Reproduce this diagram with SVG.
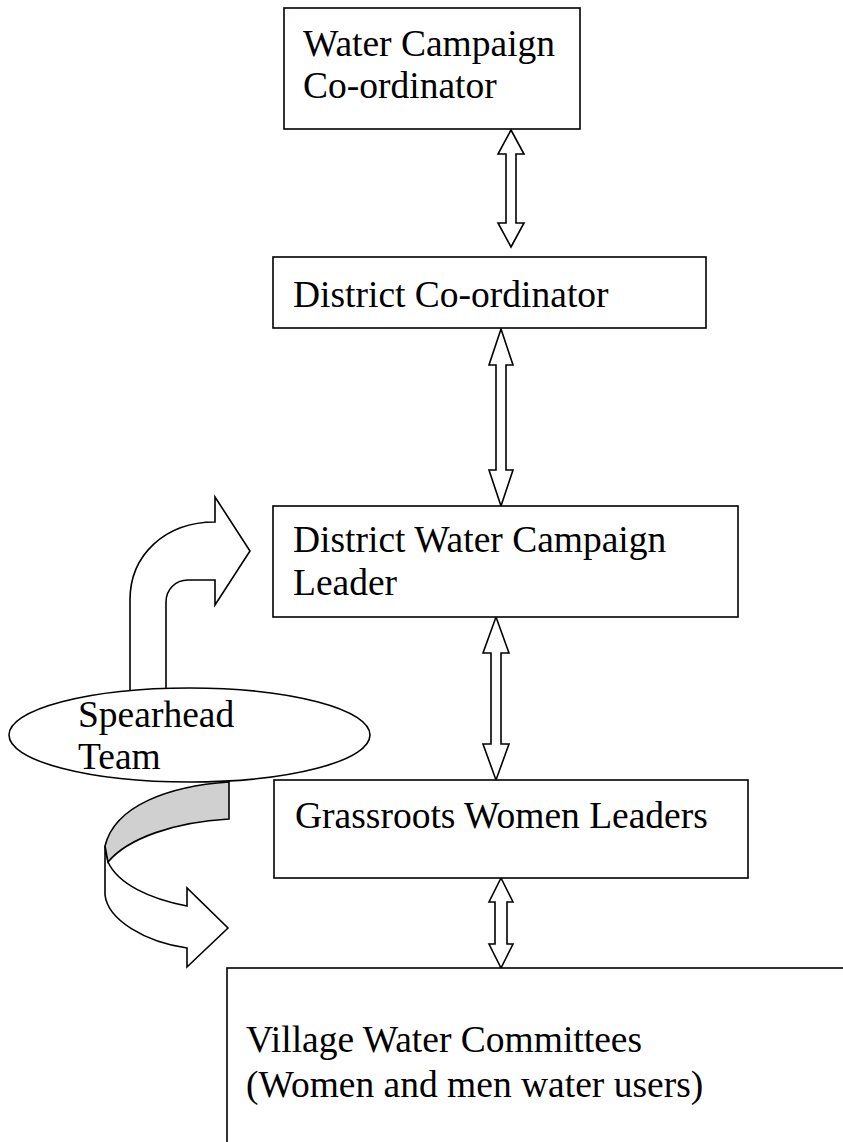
<svg xmlns="http://www.w3.org/2000/svg" width="843" height="1142" viewBox="0 0 843 1142">
<style>
.box{fill:#fff;stroke:#000;stroke-width:1.6}
.arr{fill:#fff;stroke:#000;stroke-width:1.6;stroke-linejoin:miter}
.gray{fill:#d0d0d0;stroke:#000;stroke-width:1.6}
.t{font-family:"Liberation Serif","Times New Roman",serif;font-size:37.5px;fill:#000}
</style>
<rect width="843" height="1142" fill="#fff"/>
<g id="connectors">
<polygon class="arr" points="511,130 524,154 516,154 516,223 524,223 511,247 498,223 506,223 506,154 498,154"/>
<polygon class="arr" points="501,329 513,365 506,365 506,470 513,470 501,506 489,470 496,470 496,365 489,365"/>
<polygon class="arr" points="496,617 509,653 501,653 501,744 509,744 496,780 483,744 491,744 491,653 483,653"/>
<polygon class="arr" points="501,878 513,902 507,902 507,944 513,944 501,968 489,944 495,944 495,902 489,902"/>
<path id="bent-up-arrow" class="arr" d="M130,705 L130,600 C130,555 165,522 215,522 L215,497 L250,551 L215,605 L215,580 L188,580 C175,580 166,590 166,602 L166,705 Z"/>
<g id="curved-arrow">
<path class="arr" d="M105,846 L105,895 C108,920 145,942 187,948 L187,967 L228,928 L187,888 L187,906 C150,899 118,884 108,862 Z"/>
<path class="gray" d="M229,765 L229,819 C175,822 128,838 108,862 L105,846 C115,805 170,786 229,782 Z"/>
</g>
</g>
<g id="node-water-campaign-coordinator">
<rect class="box" x="284" y="8" width="296" height="121"/>
<text class="t" x="303" y="56">Water Campaign</text>
<text class="t" x="303" y="98">Co-ordinator</text>
</g>
<g id="node-district-coordinator">
<rect class="box" x="273" y="257" width="433" height="71"/>
<text class="t" x="293" y="307">District Co-ordinator</text>
</g>
<g id="node-district-water-campaign-leader">
<rect class="box" x="273" y="506" width="465" height="111"/>
<text class="t" x="293" y="552">District Water Campaign</text>
<text class="t" x="293" y="595">Leader</text>
</g>
<g id="node-grassroots-women-leaders">
<rect class="box" x="274" y="780" width="474" height="98"/>
<text class="t" x="295" y="828">Grassroots Women Leaders</text>
</g>
<g id="node-spearhead-team">
<ellipse class="box" cx="189.5" cy="735" rx="180.5" ry="47"/>
<text class="t" x="78" y="727">Spearhead</text>
<text class="t" x="78" y="769">Team</text>
</g>
<g id="node-village-water-committees">
<rect class="box" x="227" y="968" width="700" height="250"/>
<text class="t" x="246" y="1052">Village Water Committees</text>
<text class="t" x="246" y="1097">(Women and men water users)</text>
</g>
</svg>
